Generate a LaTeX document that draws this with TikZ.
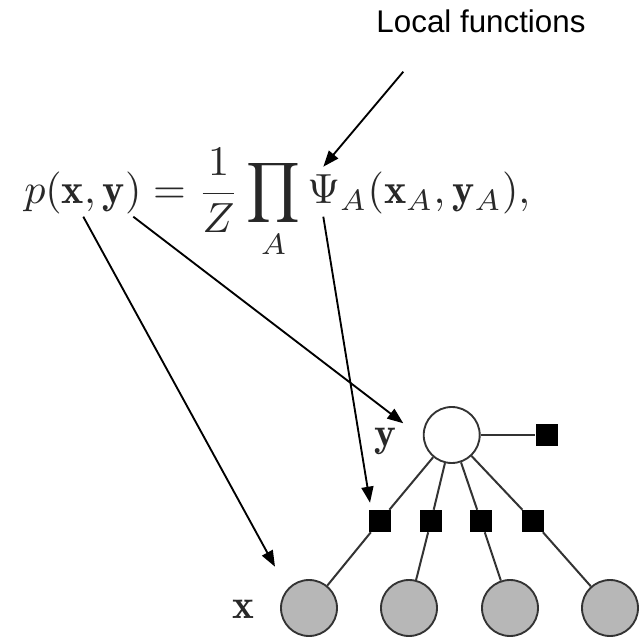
\documentclass[tikz,border=0pt]{standalone}
\usepackage{graphicx}
\usepackage{fontspec}
\newfontfamily\labelfont{Liberation Sans}
\usetikzlibrary{arrows.meta}
\definecolor{edgegray}{RGB}{51,51,51}
\definecolor{shade}{RGB}{183,183,183}
\definecolor{inkgray}{RGB}{40,40,40}
\begin{document}
\begin{tikzpicture}[x=0.75pt,y=-0.75pt,
  varnode/.style={circle, draw=edgegray, line width=1.4pt, minimum size=42pt, inner sep=0pt},
  hiddenvar/.style={varnode, fill=shade},
  outputvar/.style={varnode, fill=white},
  factor/.style={rectangle, fill=black, minimum size=16.5pt, inner sep=0pt},
  edge/.style={draw=edgegray, line width=1.5pt},
  pointer/.style={draw=black, line width=1.4pt, -{Triangle[length=12pt,width=9pt]}},
  mathtext/.style={inner sep=0pt, text=inkgray}]
\useasboundingbox (0,0) rectangle (639,638);

% caption and formula
\node[anchor=base, inner sep=0pt, font=\labelfont\fontsize{23.5}{27}\selectfont] (caption) at (481,33) {Local functions};
\node[mathtext, anchor=base west] (eq) at (24,204)
  {\scalebox{3.16}{$\displaystyle p(\mathbf{x},\mathbf{y}) = \frac{1}{Z}\prod_{A}\Psi_{A}(\mathbf{x}_{A},\mathbf{y}_{A}),$}};

% factor graph
\node[outputvar] (y) at (451.7,435) {};
\node[factor] (fy) at (546.7,435) {};
\foreach \i/\fx/\cx in {1/380/309, 2/431/409, 3/481/510, 4/533/610} {
  \node[factor] (f\i) at (\fx,521) {};
  \node[hiddenvar] (x\i) at (\cx,608) {};
}
\draw[edge] (y) -- (fy);
\foreach \i in {1,...,4} {
  \draw[edge] (y) -- (f\i);
  \draw[edge] (f\i) -- (x\i);
}
\node[mathtext, anchor=base] (ylab) at (385,446) {\scalebox{3.1}{$\mathbf{y}$}};
\node[mathtext, anchor=base] (xlab) at (243,618) {\scalebox{3.1}{$\mathbf{x}$}};

% pointers from the formula to the graph
\coordinate (cap-end) at (403.3,71.7);
\coordinate (psi-top) at (323.3,166.7);
\coordinate (eq-x) at (83.3,216.7);
\coordinate (eq-y) at (133.3,216.7);
\coordinate (eq-psi) at (323.3,216.7);
\coordinate (to-x) at (275,566.7);
\coordinate (to-y) at (403.3,423.3);
\coordinate (to-f) at (370,502.7);
\draw[pointer] (cap-end) -- (psi-top);
\draw[pointer] (eq-x) -- (to-x);
\draw[pointer] (eq-y) -- (to-y);
\draw[pointer] (eq-psi) -- (to-f);
\end{tikzpicture}
\end{document}
